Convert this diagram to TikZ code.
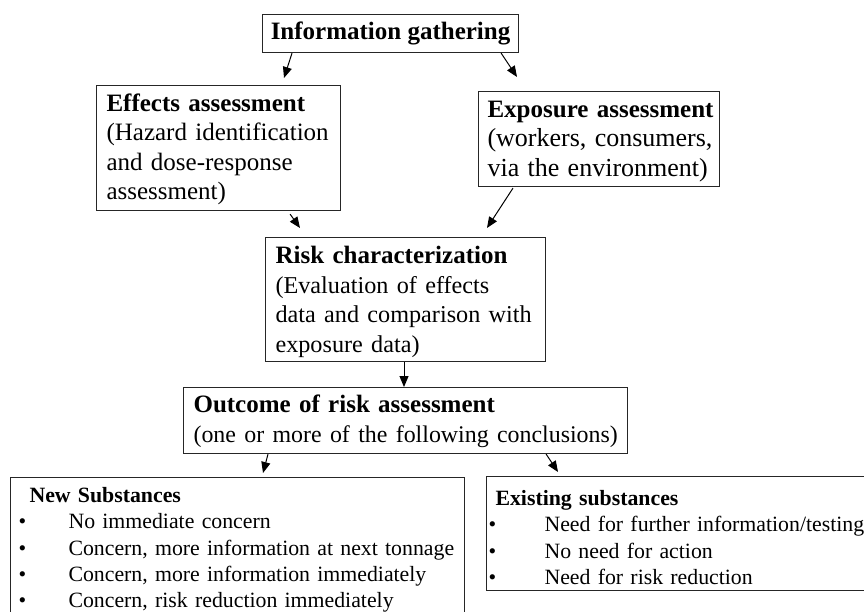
\documentclass[tikz,border=0pt]{standalone}
\usepackage{fontspec}
\setmainfont{Liberation Serif}
\usetikzlibrary{arrows.meta,calc}
\newcommand\rsz[1]{\fontsize{#1}{29.5}\selectfont}
\newcommand\blt[2]{\makebox[#2][l]{\kern#1\textbullet}}
\begin{document}
\begin{tikzpicture}[x=1pt,y=1pt,
  box/.style={draw=black!85, line width=1.1pt, rectangle, anchor=north west,
    align=left, inner xsep=10pt, inner ysep=0pt,
    font=\fontsize{25}{29.5}\selectfont},
  lowbox/.style={box, inner xsep=0pt, font=\fontsize{21.8}{26.3}\selectfont},
  arr/.style={-{Triangle[length=11pt,width=9pt]}, line width=1pt, draw=black}]
\useasboundingbox (0,0) rectangle (864,-611);
\clip (0,0) rectangle (864,-611);

\node[box, align=center, inner xsep=0pt, minimum width=256pt, minimum height=38pt] (info) at (262,-14)
  {\textbf{Information gathering}};

\node[box, text width=224pt, minimum width=244pt, minimum height=125pt] (eff) at (96,-85)
  {\rule{0pt}{20pt}\mbox{\textbf{Effects assessment}}\\
   \mbox{(Hazard identification}\\
   \mbox{and dose-response}\\
   \mbox{assessment)}};

\node[box, inner xsep=9pt, text width=223pt, minimum width=241pt, minimum height=95pt] (exp) at (478,-91)
  {\rule{0pt}{21pt}\mbox{\textbf{Exposure assessment}}\\
   \rsz{26}\mbox{(workers, consumers,}\\
   \mbox{via the environment)}};

\node[box, text width=260pt, minimum width=280pt, minimum height=124pt] (risk) at (265,-237)
  {\rule{0pt}{22pt}\mbox{\textbf{Risk characterization}}\\
   \rsz{24.2}\mbox{(Evaluation of effects}\\
   \mbox{data and comparison with}\\
   \mbox{exposure data)}};

\node[box, text width=424pt, minimum width=444pt, minimum height=66pt] (out) at (183,-387)
  {\rule{0pt}{19pt}\mbox{\textbf{Outcome of risk assessment}}\\
   \rsz{23.9}\mbox{(one or more of the following conclusions)}};

\node[lowbox, text width=454pt, minimum width=454pt, minimum height=145pt] (new) at (10,-477)
  {\kern19pt\textbf{New Substances}\\
   \blt{8pt}{58pt}No immediate concern\\
   \blt{8pt}{58pt}Concern, more information at next tonnage\\
   \blt{8pt}{58pt}Concern, more information immediately\\
   \blt{8pt}{58pt}Concern, risk reduction immediately};

\node[lowbox, text width=390pt, minimum width=390pt, minimum height=114pt] (ex) at (486,-476)
  {\rule{0pt}{23pt}\kern9pt\textbf{Existing substances}\\
   \blt{2pt}{58pt}Need for further information/testing\\
   \blt{2pt}{58pt}No need for action\\
   \blt{2pt}{58pt}Need for risk reduction};

\draw[arr] ([xshift=30pt]info.south west) -- ([xshift=188pt,yshift=7pt]eff.north west);
\draw[arr] ([xshift=-18pt]info.south east) -- ([xshift=39pt,yshift=14pt]exp.north west);
\draw[arr] ([xshift=-51pt,yshift=-3pt]eff.south east) -- ([xshift=35pt,yshift=9pt]risk.north west);
\draw[arr] ([xshift=35pt,yshift=-1pt]exp.south west) -- ([xshift=222pt,yshift=9pt]risk.north west);
\draw[arr] ([xshift=139pt]risk.south west) -- ([xshift=139pt]risk.south west |- out.north);
\draw[arr] ([xshift=85pt]out.south west) -- ([xshift=253pt,yshift=4pt]new.north west);
\draw[arr] ([xshift=-82pt]out.south east) -- ([xshift=72pt,yshift=4pt]ex.north west);
\end{tikzpicture}
\end{document}
